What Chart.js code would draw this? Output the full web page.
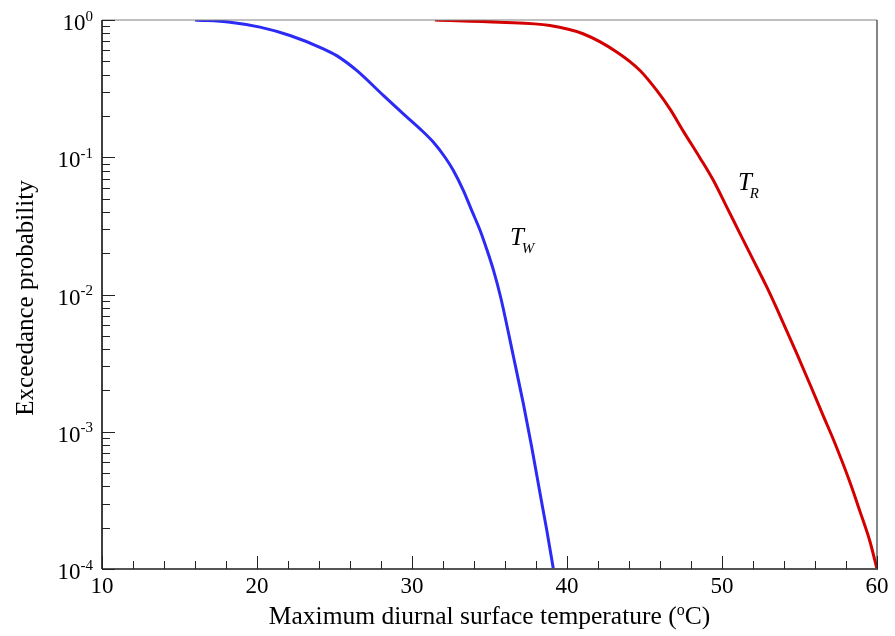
<!DOCTYPE html>
<html>
<head>
<meta charset="utf-8">
<script src="https://cdn.jsdelivr.net/npm/chart.js@4.4.1/dist/chart.umd.min.js"></script>
<style>
html,body{margin:0;padding:0;background:#fff;}
#wrap{width:895px;height:636px;position:relative;}
</style>
</head>
<body>
<div id="wrap"><canvas id="c" width="895" height="636"></canvas></div>
<script>
// Data
const twTemp = [16.0, 18.26, 20.19, 22.13, 24.28, 25.14, 26.43, 28.15, 29.44, 30.52, 31.37, 32.13, 32.66, 33.31, 33.85, 34.39, 34.82, 35.25, 35.72, 36.54, 37.18, 37.72, 38.26, 38.69, 39.12];
const twProb = [1.0, 0.964, 0.887, 0.771, 0.617, 0.550, 0.429, 0.282, 0.207, 0.161, 0.129, 0.100, 0.0804, 0.0574, 0.0410, 0.0294, 0.0214, 0.0151, 0.00955, 0.00355, 0.00161, 0.000778, 0.000356, 0.000193, 0.0001];
const trTemp = [31.48, 35.68, 38.9, 41.03, 43.23, 44.71, 45.79, 46.65, 47.5, 48.58, 49.44, 50.3, 51.16, 52.02, 52.88, 53.53, 54.82, 55.68, 56.54, 57.18, 58.26, 58.9, 59.55, 60.0];
const trProb = [1.0, 0.964, 0.912, 0.794, 0.583, 0.429, 0.307, 0.224, 0.155, 0.0989, 0.0679, 0.0435, 0.0278, 0.0178, 0.0114, 0.00791, 0.00372, 0.00221, 0.00130, 0.000881, 0.000427, 0.000263, 0.000158, 0.0001];
const xTickLabels = [10, 20, 30, 40, 50, 60];
const yTickExps = [0, -1, -2, -3, -4];
const seriesNames = [["T", "W"], ["T", "R"]];
const labelAnchors = [[36.32, 0.0229], [51.03, 0.0574]];

const SERIF = '"Liberation Serif", "Times New Roman", serif';

const frame = {
  id: 'frame',
  afterDraw(chart) {
    const ctx = chart.ctx;
    const a = chart.chartArea;
    const xs = chart.scales.x, ys = chart.scales.y;
    ctx.save();
    // frame
    ctx.lineCap = 'butt';
    ctx.strokeStyle = '#808080'; ctx.lineWidth = 1;
    ctx.beginPath(); ctx.moveTo(a.left, a.top); ctx.lineTo(a.right, a.top); ctx.stroke();
    ctx.strokeStyle = '#333'; ctx.lineWidth = 1.2;
    ctx.beginPath(); ctx.moveTo(a.right, a.top); ctx.lineTo(a.right, a.bottom); ctx.stroke();
    ctx.strokeStyle = '#555'; ctx.lineWidth = 2;
    ctx.beginPath(); ctx.moveTo(a.left, a.bottom); ctx.lineTo(a.right + 1, a.bottom); ctx.stroke();
    ctx.strokeStyle = '#000'; ctx.lineWidth = 1.5;
    ctx.beginPath(); ctx.moveTo(a.left, a.top); ctx.lineTo(a.left, a.bottom); ctx.stroke();

    // x ticks
    ctx.strokeStyle = '#222'; ctx.lineWidth = 1;
    for (let v = 10; v <= 60; v += 2) {
      const px = Math.round(xs.getPixelForValue(v)) + 0.5;
      const len = (v % 10 === 0) ? 13 : 8;
      ctx.beginPath(); ctx.moveTo(px, a.bottom); ctx.lineTo(px, a.bottom - len); ctx.stroke();
    }
    // y ticks
    for (let e = -4; e <= 0; e++) {
      const py = Math.round(ys.getPixelForValue(Math.pow(10, e))) + 0.5;
      ctx.beginPath(); ctx.moveTo(a.left, py); ctx.lineTo(a.left + 13, py); ctx.stroke();
      if (e < 0) {
        for (let m = 2; m <= 9; m++) {
          const pm = Math.round(ys.getPixelForValue(m * Math.pow(10, e))) + 0.5;
          ctx.beginPath(); ctx.moveTo(a.left, pm); ctx.lineTo(a.left + 8, pm); ctx.stroke();
        }
      }
    }

    ctx.fillStyle = '#000';
    // x tick labels
    ctx.font = '23px ' + SERIF;
    ctx.textAlign = 'center'; ctx.textBaseline = 'alphabetic';
    xTickLabels.forEach(v => {
      ctx.fillText(String(v), xs.getPixelForValue(v), a.bottom + 24);
    });
    // y tick labels 10^e
    yTickExps.forEach(e => {
      const py = ys.getPixelForValue(Math.pow(10, e));
      const base = '10', sup = String(e);
      ctx.font = '15px ' + SERIF;
      const ws = ctx.measureText(sup).width;
      ctx.font = '23px ' + SERIF;
      const wb = ctx.measureText(base).width;
      const right = a.left - 9;
      ctx.textAlign = 'left';
      ctx.fillText(base, right - ws - wb, py + 10);
      ctx.font = '15px ' + SERIF;
      ctx.fillText(sup, right - ws, py + 0.5);
    });

    // x title
    const t1 = 'Maximum diurnal surface temperature (', t2 = 'o', t3 = 'C)';
    ctx.font = '25.5px ' + SERIF;
    const w1 = ctx.measureText(t1).width, w3 = ctx.measureText(t3).width;
    ctx.font = '16px ' + SERIF;
    const w2 = ctx.measureText(t2).width;
    const cx = (a.left + a.right) / 2;
    let sx = cx - (w1 + w2 + w3) / 2;
    const by = 624;
    ctx.textAlign = 'left';
    ctx.font = '25.5px ' + SERIF; ctx.fillText(t1, sx, by); sx += w1;
    ctx.font = '16px ' + SERIF; ctx.fillText(t2, sx, by - 9); sx += w2;
    ctx.font = '25.5px ' + SERIF; ctx.fillText(t3, sx, by);

    // y title
    ctx.save();
    ctx.translate(33, 298);
    ctx.rotate(-Math.PI / 2);
    ctx.font = '25px ' + SERIF;
    ctx.textAlign = 'center';
    ctx.fillText('Exceedance probability', 0, 0);
    ctx.restore();

    // series labels
    seriesNames.forEach((nm, i) => {
      const px = xs.getPixelForValue(labelAnchors[i][0]);
      const py = ys.getPixelForValue(labelAnchors[i][1]);
      ctx.textAlign = 'left';
      ctx.font = 'italic 25px ' + SERIF;
      const wt = ctx.measureText(nm[0]).width;
      ctx.fillText(nm[0], px, py);
      ctx.font = 'italic 15px ' + SERIF;
      ctx.fillText(nm[1], px + wt - 2, py + 8);
    });
    ctx.restore();
  }
};

const toPts = (xs, ys) => xs.map((x, i) => ({x: x, y: ys[i]}));

new Chart(document.getElementById('c'), {
  type: 'scatter',
  data: {
    datasets: [
      { data: toPts(twTemp, twProb), showLine: true, borderColor: '#2b2bf5', borderWidth: 3, pointRadius: 0, cubicInterpolationMode: 'monotone', fill: false },
      { data: toPts(trTemp, trProb), showLine: true, borderColor: '#d40000', borderWidth: 3, pointRadius: 0, cubicInterpolationMode: 'monotone', fill: false }
    ]
  },
  options: {
    responsive: false,
    animation: false,
    devicePixelRatio: 1,
    layout: { padding: { left: 102, right: 18, top: 20, bottom: 67 } },
    plugins: { legend: { display: false }, tooltip: { enabled: false } },
    scales: {
      x: { type: 'linear', min: 10, max: 60, display: false },
      y: { type: 'logarithmic', min: 0.0001, max: 1, display: false }
    }
  },
  plugins: [frame]
});
</script>
</body>
</html>
